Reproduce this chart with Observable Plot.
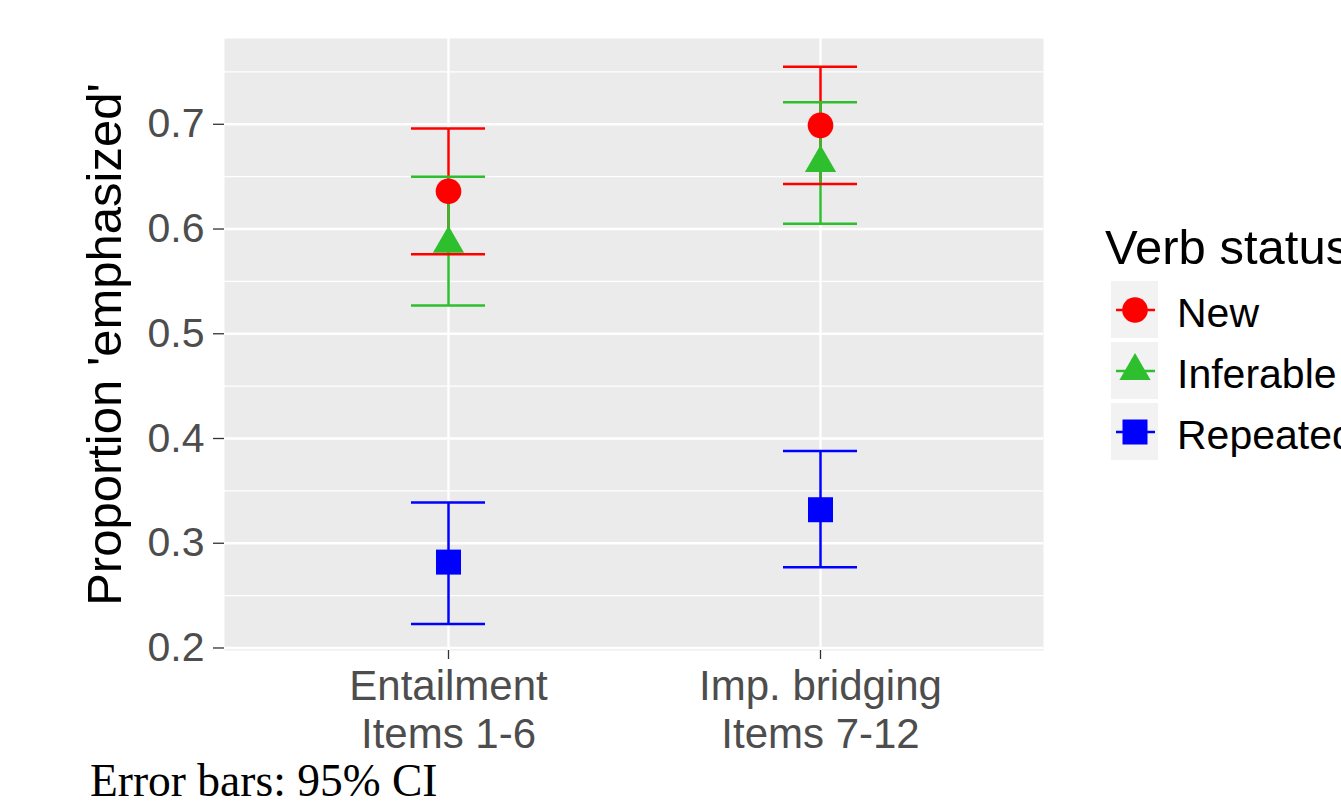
<!DOCTYPE html>
<html><head><meta charset="utf-8">
<script src="https://cdn.jsdelivr.net/npm/d3@7"></script>
<script src="https://cdn.jsdelivr.net/npm/@observablehq/plot@0.6"></script>
<style>
html,body{margin:0;padding:0;background:#fff;overflow:hidden;}
#wrap{position:relative;width:1341px;height:808px;}
#chart{position:absolute;left:0;top:0;}
#legend{position:absolute;left:1090px;top:270px;}
#ltitle{position:absolute;left:1105px;top:223px;font-family:"Liberation Sans",Arial,sans-serif;font-size:49px;line-height:1;color:#000;white-space:nowrap;}
#caption{position:absolute;left:90px;top:761px;font-family:"Liberation Serif","Times New Roman",serif;font-size:45.5px;line-height:0.9;color:#000;white-space:nowrap;}
</style>
</head><body>
<div id="wrap">
<div id="chart"></div>
<div id="ltitle">Verb status</div>
<div id="legend"></div>
<div id="caption">Error bars: 95% CI</div>
</div>
<script>
const categories = ["Entailment\nItems 1-6", "Imp. bridging\nItems 7-12"];
const statuses = ["New", "Inferable", "Repeated"];
const colors = ["#FF0000", "#2DBF2D", "#0000FF"];
const shapes = ["circle", "triangle", "square"];

const newMean = [0.636, 0.699];
const newLower = [0.576, 0.643];
const newUpper = [0.696, 0.755];
const infMean = [0.586, 0.663];
const infLower = [0.527, 0.605];
const infUpper = [0.650, 0.721];
const repMean = [0.282, 0.332];
const repLower = [0.223, 0.277];
const repUpper = [0.339, 0.388];

const majorTicks = [0.2, 0.3, 0.4, 0.5, 0.6, 0.7];
const minorTicks = [0.25, 0.35, 0.45, 0.55, 0.65, 0.75];
const yDomain = [0.1976, 0.7819];
const yLabel = "Proportion 'emphasized'";

const series = [
  ["New", newMean, newLower, newUpper],
  ["Inferable", infMean, infLower, infUpper],
  ["Repeated", repMean, repLower, repUpper]
];
const rows = [];
for (const [status, m, lo, hi] of series) {
  categories.forEach((cat, i) => rows.push({cat, status, mean: m[i], lo: lo[i], hi: hi[i]}));
}
const sizeOf = {New: 12.8, Inferable: 11.6, Repeated: 14.1};
const font = '"Liberation Sans", Arial, sans-serif';

const chart = Plot.plot({
  width: 1341, height: 765,
  marginLeft: 224, marginRight: 298, marginTop: 38, marginBottom: 115,
  style: {fontFamily: font, background: "transparent", overflow: "visible"},
  x: {type: "point", domain: categories, padding: 0.6, axis: null},
  y: {domain: yDomain, axis: null},
  color: {type: "ordinal", domain: statuses, range: colors},
  symbol: {domain: statuses, range: shapes},
  r: {type: "identity"},
  marks: [
    Plot.frame({fill: "#EBEBEB", stroke: "none"}),
    Plot.ruleY(minorTicks, {stroke: "#FFFFFF", strokeWidth: 1.2}),
    Plot.ruleY(majorTicks, {stroke: "#FFFFFF", strokeWidth: 2.4}),
    Plot.ruleX(categories, {stroke: "#FFFFFF", strokeWidth: 2.4}),
    Plot.axisY(majorTicks, {tickSize: 11, tickPadding: 9, fontSize: 41, fill: "#4D4D4D", stroke: "#333333", strokeWidth: 1.3, label: null, tickFormat: d3.format(".1f")}),
    Plot.axisX({tickSize: 9, tickPadding: 6, fontSize: 42, lineHeight: 1.15, fill: "#4D4D4D", stroke: "#333333", strokeWidth: 1.3, label: null}),
    Plot.text([yLabel], {frameAnchor: "left", rotate: -90, dx: -104, lineAnchor: "bottom", textAnchor: "middle", fontSize: 49, fill: "#000000"}),
    Plot.ruleX(rows, {x: "cat", y1: "lo", y2: "hi", stroke: "status", strokeWidth: 2.5}),
    Plot.ruleY(rows, {x1: "cat", x2: "cat", y: "lo", stroke: "status", strokeWidth: 2.5, insetLeft: -37, insetRight: -37}),
    Plot.ruleY(rows, {x1: "cat", x2: "cat", y: "hi", stroke: "status", strokeWidth: 2.5, insetLeft: -37, insetRight: -37}),
    Plot.dot(rows, {x: "cat", y: "mean", fill: "status", symbol: "status", r: d => sizeOf[d.status], stroke: "none"})
  ]
});
document.getElementById("chart").append(chart);

const legend = Plot.plot({
  width: 251, height: 200, margin: 0,
  style: {fontFamily: font, background: "transparent", overflow: "visible"},
  x: {type: "band", domain: ["key"], range: [15, 73], axis: null},
  y: {type: "band", domain: statuses, range: [10, 190], paddingInner: 0.073, paddingOuter: 0, axis: null},
  color: {type: "ordinal", domain: statuses, range: colors},
  symbol: {domain: statuses, range: shapes},
  r: {type: "identity"},
  marks: [
    Plot.cell(statuses, {x: () => "key", y: d => d, fill: "#F2F2F2"}),
    Plot.tickY(statuses, {x: () => "key", y: d => d, stroke: d => d, strokeWidth: 2.5, insetLeft: 5, insetRight: 3}),
    Plot.dot(statuses, {x: () => "key", y: d => d, fill: d => d, symbol: d => d, r: d => sizeOf[d], stroke: "none"}),
    Plot.text(statuses, {x: () => "key", y: d => d, text: d => d, dx: 42, dy: 4, textAnchor: "start", fontSize: 41, fill: "#000000"})
  ]
});
document.getElementById("legend").append(legend);
</script>
</body></html>
